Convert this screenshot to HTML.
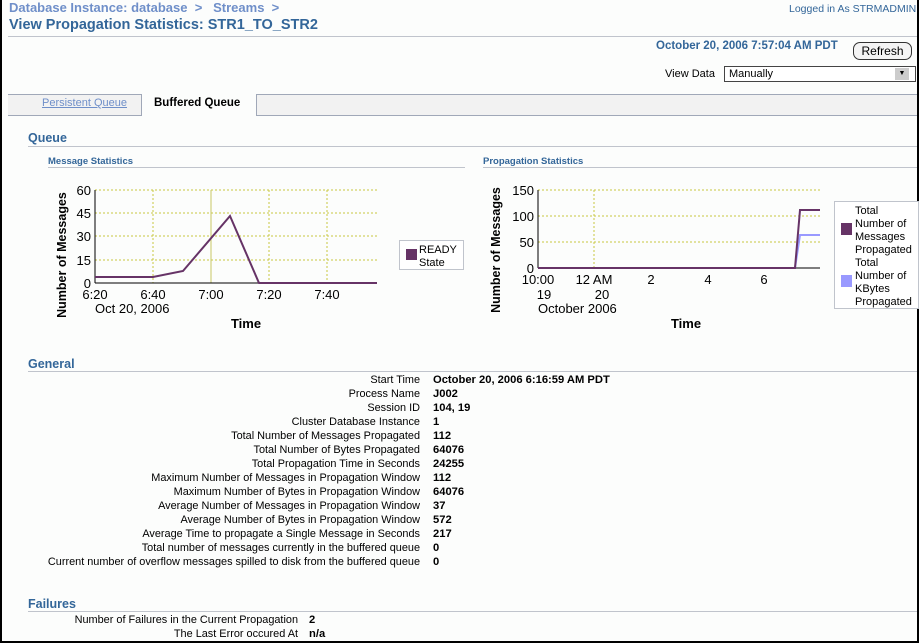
<!DOCTYPE html>
<html><head><meta charset="utf-8"><style>
body{margin:0;width:919px;height:643px;background:#fcfdfc;position:relative;overflow:hidden;font-family:"Liberation Sans",sans-serif;font-size:11px;color:#000}
.a{position:absolute;white-space:nowrap}
.hd{color:#336699;font-weight:bold}
.l{position:absolute;right:499px;white-space:nowrap;font-size:10.9px}
.v{position:absolute;left:433px;font-weight:bold;white-space:nowrap;font-size:11.2px}
</style></head><body>
<div class="a" style="left:0;top:0;width:2px;height:643px;background:#000"></div>
<div class="a" style="left:917px;top:0;width:2px;height:643px;background:#000"></div>
<div class="a" style="left:0;top:641px;width:919px;height:2px;background:#000"></div>
<div class="a" style="left:9px;top:0;font-size:13px;color:#6f8fc9;font-weight:bold">Database Instance: database &nbsp;&gt;&nbsp;&nbsp; Streams &nbsp;&gt;</div>
<div class="a" style="left:9px;top:17px;font-size:14.5px;color:#336699;font-weight:bold">View Propagation Statistics: STR1_TO_STR2</div>
<div class="a" style="left:789px;top:3px;font-size:10.5px;color:#336699">Logged in As STRMADMIN</div>
<div class="a" style="left:8px;top:36px;width:909px;height:1px;background:#c0c4cc"></div>
<div class="a" style="left:656px;top:40px;color:#336699;font-weight:bold;font-size:11.5px">October 20, 2006 7:57:04 AM PDT</div>
<div class="a" style="left:853px;top:42px;width:57px;height:16px;border:1px solid #333;border-radius:7px;font-size:12px;text-align:center;line-height:16px;background:#f4f4f4">Refresh</div>
<div class="a" style="left:665px;top:68px;font-size:11px">View Data</div>
<div class="a" style="left:724px;top:66px;width:186px;height:14px;border:1px solid #444;background:#fff;font-size:11px;line-height:14px;padding-left:4px">Manually</div>
<div class="a" style="left:895px;top:68px;width:14px;height:12px;background:#ccc;font-size:7px;text-align:center;line-height:12px">▼</div>
<div class="a" style="left:8px;top:94px;width:909px;height:20px;background:#f2f2f2;border-top:1px solid #a0a8b8;border-bottom:1px solid #a0a8b8"></div>
<div class="a" style="left:141px;top:94px;width:114px;height:22px;background:#fcfdfc;border-left:1px solid #a0a8b8;border-right:1px solid #a0a8b8"></div>
<div class="a" style="left:42px;top:97px;font-size:11px;color:#6f8fc9;text-decoration:underline">Persistent Queue</div>
<div class="a" style="left:154px;top:97px;font-weight:bold;font-size:11.5px">Buffered Queue</div>
<div class="a hd" style="left:28px;top:131px;font-size:12.5px">Queue</div>
<div class="a" style="left:28px;top:146px;width:889px;height:1px;background:#c0c4cc"></div>
<div class="a hd" style="left:48px;top:156px;font-size:9.5px">Message Statistics</div>
<div class="a" style="left:48px;top:167px;width:417px;height:1px;background:#c0c4cc"></div>
<div class="a hd" style="left:483px;top:156px;font-size:9.5px">Propagation Statistics</div>
<div class="a" style="left:483px;top:167px;width:434px;height:1px;background:#c0c4cc"></div>
<svg class="a" style="left:0;top:0" width="919" height="643" font-family="Liberation Sans,sans-serif">
<g stroke="#c8c840" stroke-dasharray="2,2" fill="none">
<line x1="95" y1="190" x2="377" y2="190"/><line x1="95" y1="213" x2="377" y2="213"/><line x1="95" y1="236" x2="377" y2="236"/><line x1="95" y1="260" x2="377" y2="260"/>
<line x1="153" y1="190" x2="153" y2="283"/><line x1="269" y1="190" x2="269" y2="283"/><line x1="327" y1="190" x2="327" y2="283"/>
<line x1="538" y1="190" x2="820" y2="190"/><line x1="538" y1="216" x2="820" y2="216"/><line x1="538" y1="242" x2="820" y2="242"/>
<line x1="594" y1="190" x2="594" y2="268"/>
</g>
<line x1="211" y1="190" x2="211" y2="283" stroke="#c8c864"/>
<g stroke="#000"><line x1="95" y1="190" x2="95" y2="283"/><line x1="95" y1="283" x2="377" y2="283"/>
<line x1="538" y1="190" x2="538" y2="268"/><line x1="538" y1="268" x2="820" y2="268"/></g>
<polyline points="95,277 153,277 183,271 230,216 259,283 377,283" fill="none" stroke="#663366" stroke-width="2"/>
<polyline points="538,268 795,268 800,235 820,235" fill="none" stroke="#9999ff" stroke-width="2"/>
<polyline points="538,268 795,268 800,210 820,210" fill="none" stroke="#663366" stroke-width="2"/>
<g font-size="13" text-anchor="end"><text x="91" y="195">60</text><text x="91" y="218">45</text><text x="91" y="241">30</text><text x="91" y="265">15</text><text x="91" y="288">0</text>
<text x="534" y="195">150</text><text x="534" y="221">100</text><text x="534" y="247">50</text><text x="534" y="273">0</text></g>
<g font-size="13" text-anchor="middle"><text x="95" y="299">6:20</text><text x="153" y="299">6:40</text><text x="211" y="299">7:00</text><text x="269" y="299">7:20</text><text x="327" y="299">7:40</text>
<text x="538" y="284">10:00</text><text x="594" y="284">12 AM</text><text x="651" y="284">2</text><text x="708" y="284">4</text><text x="764" y="284">6</text>
<text x="544" y="299">19</text><text x="602" y="299">20</text></g>
<text x="95" y="313" font-size="13">Oct 20, 2006</text>
<text x="538" y="313" font-size="13">October 2006</text>
<text x="246" y="328" font-size="13" font-weight="bold" text-anchor="middle">Time</text>
<text x="686" y="328" font-size="13" font-weight="bold" text-anchor="middle">Time</text>
<text transform="translate(66,255) rotate(-90)" font-size="12.5" font-weight="bold" text-anchor="middle">Number of Messages</text>
<text transform="translate(500,250) rotate(-90)" font-size="12.5" font-weight="bold" text-anchor="middle">Number of Messages</text>
<rect x="399.5" y="240.5" width="64" height="29" fill="#fff" stroke="#c0c4cc"/>
<rect x="406" y="249" width="11" height="11" fill="#663366"/>
<text x="419" y="253" font-size="11">READY</text><text x="419" y="266" font-size="11">State</text>
<rect x="834.5" y="201.5" width="84" height="107" fill="#fff" stroke="#c0c4cc"/>
<rect x="841" y="223" width="11" height="12" fill="#663366"/>
<rect x="841" y="275" width="11" height="12" fill="#9999ff"/>
<g font-size="11"><text x="855" y="214">Total</text><text x="855" y="227">Number of</text><text x="855" y="240">Messages</text><text x="855" y="253">Propagated</text>
<text x="855" y="266">Total</text><text x="855" y="279">Number of</text><text x="855" y="292">KBytes</text><text x="855" y="305">Propagated</text></g>
</svg>
<div class="a hd" style="left:28px;top:357px;font-size:12.5px">General</div>
<div class="a" style="left:28px;top:371px;width:889px;height:1px;background:#c0c4cc"></div>
<div class="l" style="top:374px">Start Time</div><div class="v" style="top:374px">October 20, 2006 6:16:59 AM PDT</div>
<div class="l" style="top:388px">Process Name</div><div class="v" style="top:388px">J002</div>
<div class="l" style="top:402px">Session ID</div><div class="v" style="top:402px">104, 19</div>
<div class="l" style="top:416px">Cluster Database Instance</div><div class="v" style="top:416px">1</div>
<div class="l" style="top:430px">Total Number of Messages Propagated</div><div class="v" style="top:430px">112</div>
<div class="l" style="top:444px">Total Number of Bytes Propagated</div><div class="v" style="top:444px">64076</div>
<div class="l" style="top:458px">Total Propagation Time in Seconds</div><div class="v" style="top:458px">24255</div>
<div class="l" style="top:472px">Maximum Number of Messages in Propagation Window</div><div class="v" style="top:472px">112</div>
<div class="l" style="top:486px">Maximum Number of Bytes in Propagation Window</div><div class="v" style="top:486px">64076</div>
<div class="l" style="top:500px">Average Number of Messages in Propagation Window</div><div class="v" style="top:500px">37</div>
<div class="l" style="top:514px">Average Number of Bytes in Propagation Window</div><div class="v" style="top:514px">572</div>
<div class="l" style="top:528px">Average Time to propagate a Single Message in Seconds</div><div class="v" style="top:528px">217</div>
<div class="l" style="top:542px">Total number of messages currently in the buffered queue</div><div class="v" style="top:542px">0</div>
<div class="l" style="top:556px">Current number of overflow messages spilled to disk from the buffered queue</div><div class="v" style="top:556px">0</div>
<div class="a hd" style="left:28px;top:597px;font-size:12.5px">Failures</div>
<div class="a" style="left:28px;top:611px;width:889px;height:1px;background:#c0c4cc"></div>
<div class="l" style="top:614px;right:621px">Number of Failures in the Current Propagation</div><div class="v" style="top:614px;left:309px">2</div>
<div class="l" style="top:628px;right:621px">The Last Error occured At</div><div class="v" style="top:628px;left:309px">n/a</div>
</body></html>
